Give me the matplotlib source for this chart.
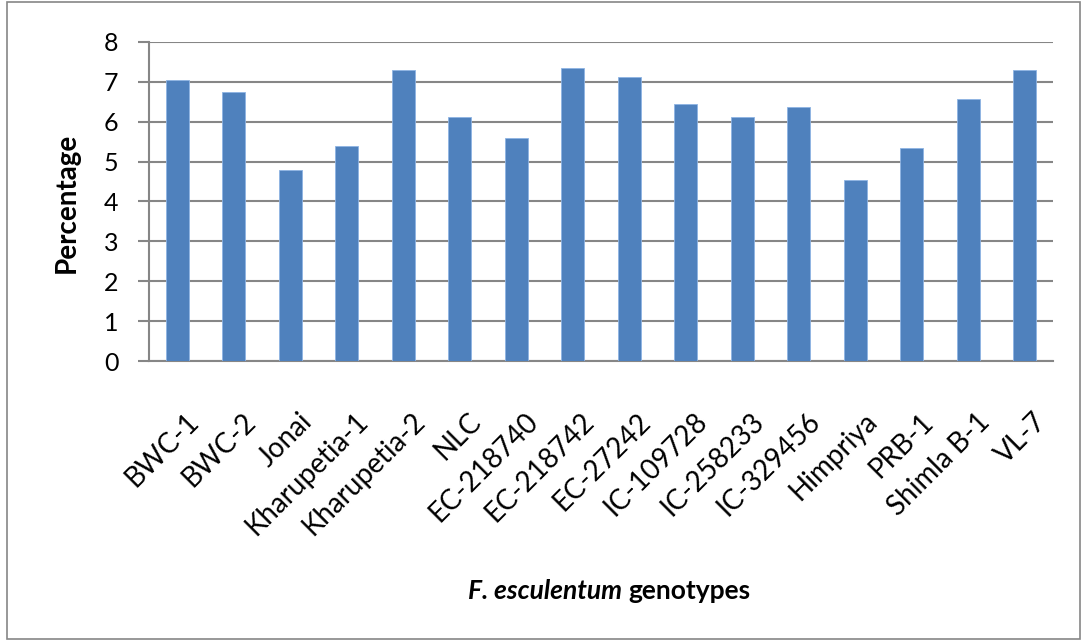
import matplotlib
matplotlib.use("Agg")
import matplotlib.pyplot as plt
from matplotlib.patches import Rectangle
from matplotlib.transforms import ScaledTranslation

genotypes = ["BWC-1", "BWC-2", "Jonai", "Kharupetia-1", "Kharupetia-2", "NLC",
             "EC-218740", "EC-218742", "EC-27242", "IC-109728", "IC-258233",
             "IC-329456", "Himpriya", "PRB-1", "Shimla B-1", "VL-7"]
percentage = [7.05, 6.75, 4.78, 5.39, 7.30, 6.13, 5.59, 7.36, 7.11, 6.44,
              6.13, 6.38, 4.54, 5.34, 6.56, 7.30]
yticks = [0, 1, 2, 3, 4, 5, 6, 7, 8]

plt.rcParams['font.family'] = ['Lato', 'DejaVu Sans']

fig = plt.figure(figsize=(10.84, 6.41), dpi=100)
ax = fig.add_axes([0.1375, 0.4368, 0.8339, 0.4977])

x = list(range(len(genotypes)))
ax.bar(x, percentage, width=0.4, color="#4F81BD", edgecolor="#8EB4E3",
       linewidth=0.6, zorder=3)

ax.set_xlim(-0.5, len(genotypes) - 0.5)
ax.set_ylim(0, 8)
ax.set_yticks(yticks)
ax.set_yticklabels([str(v) for v in yticks], fontsize=18)
ax.yaxis.grid(True, color="#868686", linewidth=1.5, zorder=0)
ax.set_axisbelow(True)
ax.tick_params(axis='y', length=8, width=1.5, color="#868686", pad=14)
ax.tick_params(axis='x', length=0, pad=34)

ax.set_xticks(x)
labels = ax.set_xticklabels(genotypes, rotation=45, ha='right', va='top',
                            rotation_mode='anchor', fontsize=20)
offset = ScaledTranslation(6/72, 0, fig.dpi_scale_trans)
for lab in labels:
    lab.set_transform(lab.get_transform() + offset)

for s in ['top', 'right']:
    ax.spines[s].set_visible(False)
ax.spines['left'].set_color("#868686")
ax.spines['left'].set_linewidth(1.5)
ax.spines['bottom'].set_color("#868686")
ax.spines['bottom'].set_linewidth(1.5)

fig.text(0.062, 0.683, "Percentage", rotation=90, ha='center', va='center',
         fontsize=20, fontweight='bold')
fig.text(0.574, 0.078, "F. esculentum", ha='right', va='center',
         fontsize=19, fontweight='bold', style='italic')
fig.text(0.580, 0.078, "genotypes", ha='left', va='center',
         fontsize=19, fontweight='bold')

fig.patches.append(Rectangle((0.006, 0.003), 0.99, 0.994, transform=fig.transFigure,
                             fill=False, edgecolor="#868686", linewidth=1.2))

fig.savefig("out.png", dpi=100)
